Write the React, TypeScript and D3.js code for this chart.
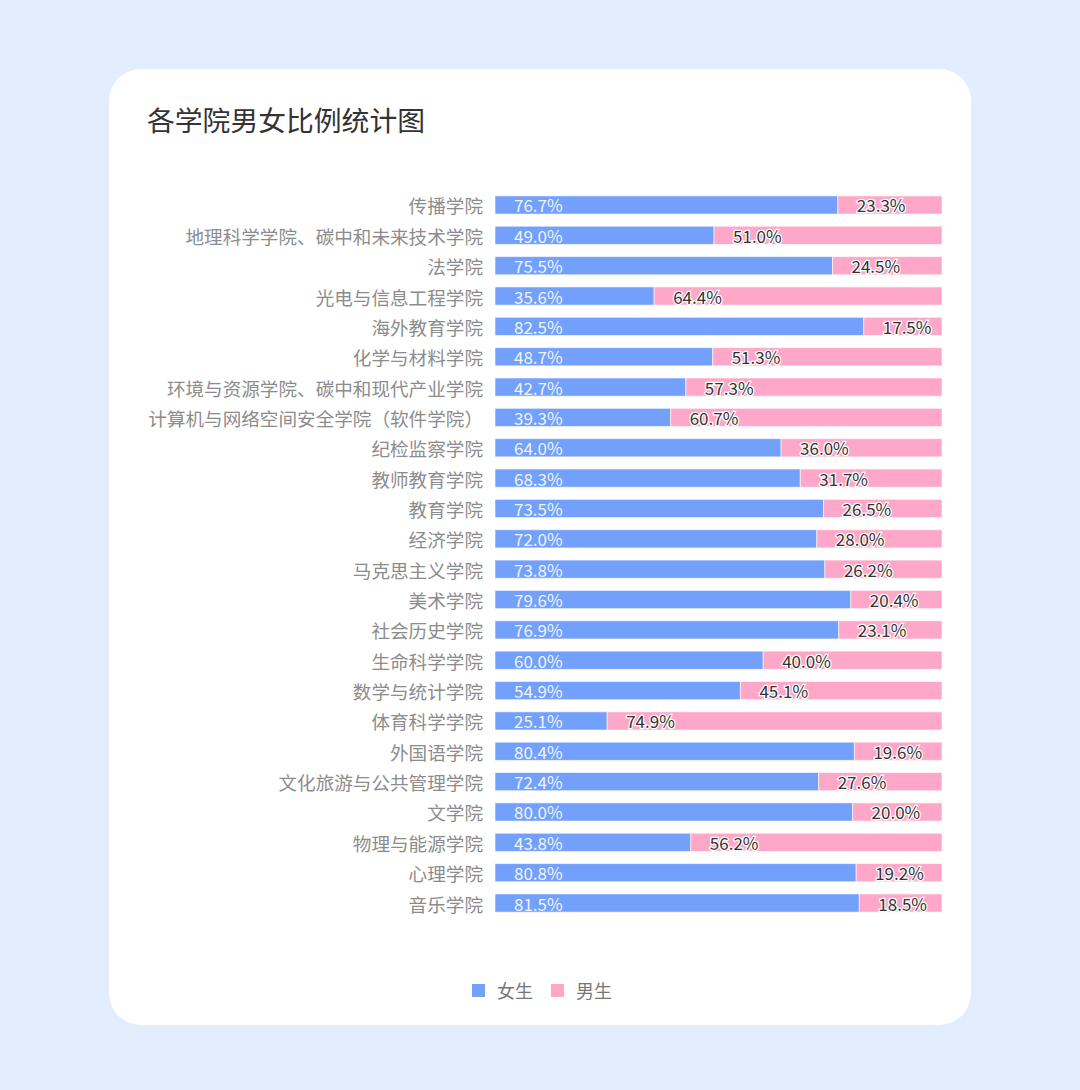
import React, { useEffect, useRef } from "react";
import * as d3 from "d3";

const colleges = [
  "传播学院",
  "地理科学学院、碳中和未来技术学院",
  "法学院",
  "光电与信息工程学院",
  "海外教育学院",
  "化学与材料学院",
  "环境与资源学院、碳中和现代产业学院",
  "计算机与网络空间安全学院（软件学院）",
  "纪检监察学院",
  "教师教育学院",
  "教育学院",
  "经济学院",
  "马克思主义学院",
  "美术学院",
  "社会历史学院",
  "生命科学学院",
  "数学与统计学院",
  "体育科学学院",
  "外国语学院",
  "文化旅游与公共管理学院",
  "文学院",
  "物理与能源学院",
  "心理学院",
  "音乐学院",
];

const female = [
  76.7, 49.0, 75.5, 35.6, 82.5, 48.7, 42.7, 39.3, 64.0, 68.3, 73.5, 72.0, 73.8,
  79.6, 76.9, 60.0, 54.9, 25.1, 80.4, 72.4, 80.0, 43.8, 80.8, 81.5,
];

const male = [
  23.3, 51.0, 24.5, 64.4, 17.5, 51.3, 57.3, 60.7, 36.0, 31.7, 26.5, 28.0, 26.2,
  20.4, 23.1, 40.0, 45.1, 74.9, 19.6, 27.6, 20.0, 56.2, 19.2, 18.5,
];

const seriesNames = ["女生", "男生"];
const seriesColors = ["#72a0fb", "#ffa7c8"];

const W = 1080;
const H = 1090;
const FONT = "'Noto Sans CJK SC', 'Noto Sans', sans-serif";

const GenderRatioChart = () => {
  const ref = useRef<SVGSVGElement>(null);

  useEffect(() => {
    const svg = d3.select(ref.current);
    svg.selectAll("*").remove();

    svg.append("rect").attr("width", W).attr("height", H).attr("fill", "#e2edfd");
    svg
      .append("rect")
      .attr("x", 109)
      .attr("y", 69)
      .attr("width", 862)
      .attr("height", 956)
      .attr("rx", 32)
      .attr("fill", "#ffffff");

    svg
      .append("text")
      .attr("x", 147)
      .attr("y", 131)
      .attr("font-size", 27.8)
      .attr("fill", "#333")
      .attr("font-family", FONT)
      .text("各学院男女比例统计图");

    const rows = colleges.map((name, i) => ({ name, f: female[i], m: male[i] }));

    const x = d3.scaleLinear().domain([0, 100]).range([495, 942]);
    const y = d3
      .scaleBand<string>()
      .domain(colleges)
      .range([189.8, 918.2])
      .paddingInner(0.4)
      .paddingOuter(0.2);

    // category labels
    svg
      .append("g")
      .selectAll("text")
      .data(rows)
      .enter()
      .append("text")
      .attr("x", 483)
      .attr("y", (d) => (y(d.name) as number) + y.bandwidth() / 2)
      .attr("text-anchor", "end")
      .attr("dominant-baseline", "central")
      .attr("font-size", 18.6)
      .attr("font-family", FONT)
      .attr("fill", "#8c8c8c")
      .text((d) => d.name);

    const stack = d3
      .stack<{ name: string; f: number; m: number }>()
      .keys(["f", "m"]);
    const layers = stack(rows);

    layers.forEach((layer, li) => {
      const g = svg.append("g");
      g.selectAll("rect")
        .data(layer)
        .enter()
        .append("rect")
        .attr("x", (d) => x(d[0]))
        .attr("y", (d) => y(d.data.name) as number)
        .attr("width", (d) => x(d[1]) - x(d[0]))
        .attr("height", y.bandwidth())
        .attr("fill", seriesColors[li])
        .attr("stroke", "rgba(255,255,255,0.6)")
        .attr("stroke-width", 1);

      g.selectAll("text")
        .data(layer)
        .enter()
        .append("text")
        .attr("x", (d) => x(d[0]) + 19)
        .attr("y", (d) => (y(d.data.name) as number) + y.bandwidth() / 2)
        .attr("dominant-baseline", "central")
        .attr("font-size", 17)
        .attr("font-family", FONT)
        .attr("fill", li === 0 ? "#edf3ff" : "#333")
        .attr("stroke", li === 0 ? "none" : "#ffffff")
        .attr("stroke-width", li === 0 ? 0 : 2.5)
        .attr("paint-order", "stroke")
        .text((d) => `${(d[1] - d[0]).toFixed(1)}%`);
    });

    // legend
    const legend = svg.append("g");
    const lx = [472, 551];
    seriesNames.forEach((name, i) => {
      legend
        .append("rect")
        .attr("x", lx[i])
        .attr("y", 984)
        .attr("width", 13)
        .attr("height", 13)
        .attr("fill", seriesColors[i]);
      legend
        .append("text")
        .attr("x", lx[i] + 25)
        .attr("y", 990)
        .attr("dominant-baseline", "central")
        .attr("font-size", 18)
        .attr("font-family", FONT)
        .attr("fill", "#777")
        .text(name);
    });
  }, []);

  return <svg ref={ref} width={W} height={H} style={{ display: "block" }} />;
};

export default function App() {
  return (
    <div style={{ position: "absolute", left: 0, top: 0, width: W, height: H }}>
      <GenderRatioChart />
    </div>
  );
}
